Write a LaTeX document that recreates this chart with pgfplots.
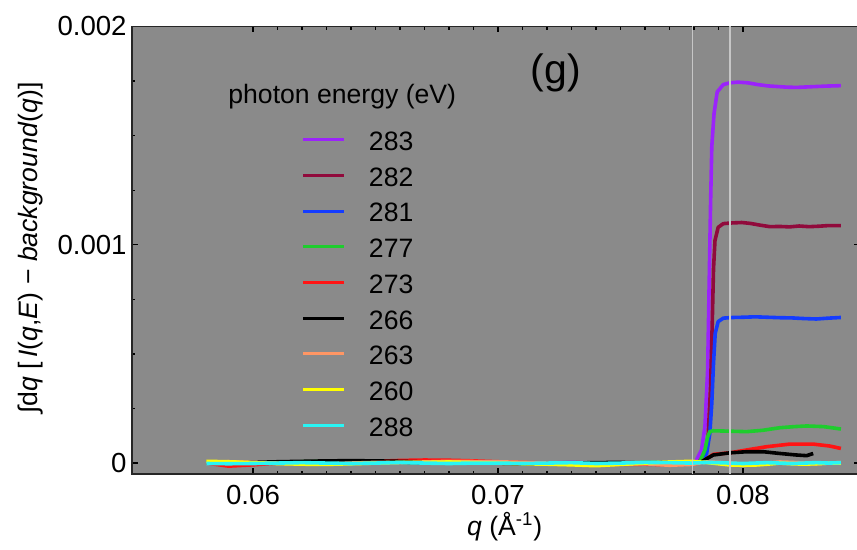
\documentclass[border=0pt]{standalone}
\usepackage{fontspec}
\setmainfont{Liberation Sans}
\usepackage{pgfplots}
\pgfplotsset{compat=1.18}
\definecolor{bg}{RGB}{138,138,138}
\definecolor{vline}{RGB}{198,198,198}
\definecolor{c283}{RGB}{155,35,250}
\definecolor{c282}{RGB}{145,10,60}
\definecolor{c281}{RGB}{20,60,255}
\definecolor{c277}{RGB}{30,205,45}
\definecolor{c273}{RGB}{255,20,20}
\definecolor{c266}{RGB}{0,0,0}
\definecolor{c263}{RGB}{255,150,100}
\definecolor{c260}{RGB}{255,255,0}
\definecolor{c288}{RGB}{40,245,245}
\begin{document}
\begin{tikzpicture}
\begin{axis}[
  at={(0,0)}, anchor=south west,
  scale only axis, width=364pt, height=223.75pt,
  xmin=0.05506, xmax=0.08478, ymin=-0.00005, ymax=0.002,
  axis background/.style={fill=bg},
  xtick={0.06,0.07,0.08}, xticklabels={0.06,0.07,0.08},
  ytick={0,0.001,0.002}, yticklabels={0,0.001,0.002},
  scaled ticks=false,
  minor x tick num=9, minor y tick num=3,
  tick align=inside, major tick length=3pt, minor tick length=1.7pt,
  every tick/.style={black, line width=0.6pt},
  axis line style={line width=0.9pt, black!85},
  tick label style={font=\fontsize{13.8}{16}\selectfont},
  xticklabel style={inner ysep=0pt, yshift=-5.5pt},
  yticklabel style={inner xsep=0pt, xshift=-2.5pt},
  label style={font=\fontsize{13.3}{16}\selectfont},
  xlabel={\textit{q} (Å\textsuperscript{-1})},
  ylabel={∫d\textit{q} [\,\textit{I}(\textit{q},\textit{E}) − \textit{background}(\textit{q})]},
  xlabel style={at={(axis description cs:0.512,-0.118)}, anchor=center},
  ylabel style={at={(axis description cs:-0.140,0.505)}, anchor=center},
  every axis plot/.append style={line width=1.8pt, line join=round},
  legend cell align=left,
  legend image code/.code={\draw[#1, line width=1.5pt, line cap=butt] (0pt,0.6pt) -- (20.5pt,0.6pt);},
  legend style={at={(axis description cs:0.2335,0.7658)}, anchor=north west,
    draw=none, fill=none, inner sep=0pt, outer sep=0pt,
    font=\fontsize{13.3}{16}\selectfont,
    row sep=8.25pt, column sep=11.5pt,
    nodes={inner sep=0pt, text height=9.6pt, text depth=0pt}},
]
% 283
\addplot[c283] coordinates {
(0.0581,0)(0.0590,-0.3e-5)(0.0600,0.2e-5)(0.0610,0)(0.0620,0.3e-5)(0.0630,0.5e-5)(0.0640,0.3e-5)(0.0650,0)(0.0660,0.4e-5)(0.0670,0.3e-5)(0.0680,0)(0.0690,0.3e-5)(0.0700,0.2e-5)(0.0710,-0.3e-5)(0.0720,0)(0.0730,0.3e-5)(0.0740,0)(0.0750,-0.3e-5)(0.0760,0)(0.0770,0.2e-5)(0.0779,0)
(0.07804,0)(0.07831,6e-5)(0.07845,1.67e-4)(0.07856,4.27e-4)(0.07862,8.1e-4)(0.07868,1.19e-3)(0.07873,1.45e-3)(0.07882,1.6e-3)(0.07895,1.7e-3)(0.07920,1.734e-3)(0.07947,1.742e-3)(0.0798,1.745e-3)(0.0802,1.742e-3)(0.0806,1.734e-3)(0.0810,1.728e-3)(0.0814,1.725e-3)(0.0818,1.722e-3)(0.0822,1.721e-3)(0.0826,1.723e-3)(0.0830,1.725e-3)(0.0834,1.727e-3)(0.0837,1.728e-3)(0.0840,1.729e-3)
};
\addlegendentry{283}
% 282
\addplot[c282] coordinates {
(0.0581,0)(0.0590,-0.5e-5)(0.0600,0)(0.0610,0.3e-5)(0.0620,0)(0.0630,0.6e-5)(0.0640,0.5e-5)(0.0650,0.3e-5)(0.0660,0.5e-5)(0.0670,0.2e-5)(0.0680,0)(0.0690,0.3e-5)(0.0700,0)(0.0710,-0.3e-5)(0.0720,0)(0.0730,0.2e-5)(0.0740,0)(0.0750,-0.3e-5)(0.0760,0)(0.0770,0.3e-5)(0.0779,0)
(0.07818,0)(0.07845,4.4e-5)(0.07858,1.2e-4)(0.07868,3.5e-4)(0.07875,6.5e-4)(0.07880,8.9e-4)(0.07886,1.02e-3)(0.07899,1.08e-3)(0.07920,1.097e-3)(0.07954,1.1e-3)(0.07995,1.102e-3)(0.0803,1.098e-3)(0.0807,1.09e-3)(0.0811,1.083e-3)(0.0815,1.084e-3)(0.0819,1.082e-3)(0.0823,1.086e-3)(0.0827,1.083e-3)(0.0831,1.085e-3)(0.0835,1.088e-3)(0.0840,1.088e-3)
};
\addlegendentry{282}
% 281
\addplot[c281] coordinates {
(0.0581,0)(0.0590,0)(0.0600,-0.3e-5)(0.0610,0)(0.0620,0.3e-5)(0.0630,0.4e-5)(0.0640,0.3e-5)(0.0650,0.4e-5)(0.0660,0.2e-5)(0.0670,0)(0.0680,0.3e-5)(0.0690,0)(0.0700,0.2e-5)(0.0710,0)(0.0720,-0.3e-5)(0.0730,0)(0.0740,-0.5e-5)(0.0750,-0.3e-5)(0.0760,0)(0.0770,0.2e-5)(0.0779,0)
(0.07831,0)(0.07852,4.4e-5)(0.07865,1.36e-4)(0.07873,2.74e-4)(0.07880,4.57e-4)(0.07887,5.95e-4)(0.07899,6.48e-4)(0.07920,6.64e-4)(0.07960,6.67e-4)(0.0800,6.68e-4)(0.0805,6.7e-4)(0.0810,6.68e-4)(0.0815,6.66e-4)(0.0820,6.65e-4)(0.0825,6.62e-4)(0.0830,6.6e-4)(0.0835,6.64e-4)(0.0840,6.67e-4)
};
\addlegendentry{281}
% 277
\addplot[c277] coordinates {
(0.0581,0.5e-5)(0.0590,0)(0.0600,0)(0.0610,0.3e-5)(0.0620,0.6e-5)(0.0630,0.8e-5)(0.0640,0.5e-5)(0.0650,0.3e-5)(0.0660,0.3e-5)(0.0670,0.2e-5)(0.0680,0)(0.0690,0.3e-5)(0.0700,0)(0.0710,0)(0.0720,-0.3e-5)(0.0730,0)(0.0740,-0.2e-5)(0.0750,0)(0.0760,0.3e-5)(0.0770,0.2e-5)(0.0779,0)
(0.07824,0.6e-5)(0.07845,6e-5)(0.07856,1.2e-4)(0.07865,1.44e-4)(0.07878,1.48e-4)(0.0795,1.46e-4)(0.08015,1.44e-4)(0.0808,1.5e-4)(0.08151,1.62e-4)(0.0821,1.67e-4)(0.0826,1.7e-4)(0.0833,1.67e-4)(0.0840,1.56e-4)
};
\addlegendentry{277}
% 273
\addplot[c273] coordinates {
(0.0581,0)(0.0590,-1.4e-5)(0.0600,-0.8e-5)(0.0610,0)(0.0620,0.3e-5)(0.0630,0.2e-5)(0.0640,0.5e-5)(0.0650,0.8e-5)(0.0660,1.2e-5)(0.0670,1.4e-5)(0.0680,1.3e-5)(0.0690,1.0e-5)(0.0700,0.6e-5)(0.0710,0.3e-5)(0.0720,0)(0.0730,-0.3e-5)(0.0740,-0.5e-5)(0.0750,-0.6e-5)(0.0760,-0.5e-5)(0.0770,-0.8e-5)(0.0779,-0.4e-5)
(0.07824,0)(0.07852,2e-5)(0.07879,4e-5)(0.07947,4.7e-5)(0.08015,6e-5)(0.08097,7.5e-5)(0.08192,8.7e-5)(0.08287,8.7e-5)(0.08355,7.8e-5)(0.0840,6.7e-5)
};
\addlegendentry{273}
% 266
\addplot[c266] coordinates {
(0.0581,0.3e-5)(0.0590,0)(0.0600,0.3e-5)(0.0610,0.6e-5)(0.0620,0.8e-5)(0.0630,1.0e-5)(0.0640,1.1e-5)(0.0650,1.0e-5)(0.0660,0.8e-5)(0.0670,0.5e-5)(0.0680,0.3e-5)(0.0690,0.2e-5)(0.0700,0)(0.0710,-0.3e-5)(0.0720,-0.2e-5)(0.0730,0)(0.0740,0.2e-5)(0.0750,0.3e-5)(0.0760,0)(0.0770,0.2e-5)(0.0779,0.3e-5)
(0.0783,0.5e-5)(0.07852,2e-5)(0.07879,3.7e-5)(0.07947,4.7e-5)(0.08015,5.2e-5)(0.08083,5.2e-5)(0.08151,4.4e-5)(0.08219,3.7e-5)(0.0826,3.4e-5)(0.08287,4.4e-5)
};
\addlegendentry{266}
% 263
\addplot[c263] coordinates {
(0.0581,0.3e-5)(0.0590,0.6e-5)(0.0600,0.3e-5)(0.0610,0)(0.0620,-0.3e-5)(0.0630,-0.4e-5)(0.0640,0)(0.0650,0.3e-5)(0.0660,0.2e-5)(0.0670,0.5e-5)(0.0680,0.8e-5)(0.0690,0.7e-5)(0.0700,0.6e-5)(0.0710,0.3e-5)(0.0720,0)(0.0730,-0.4e-5)(0.0740,-0.6e-5)(0.0750,-0.5e-5)(0.0760,-0.3e-5)(0.0770,-1.0e-5)(0.0779,-0.6e-5)
(0.0785,0.5e-5)(0.0790,0.3e-5)(0.0795,0)(0.0800,-0.5e-5)(0.0805,-0.3e-5)(0.0810,0)(0.0815,0.5e-5)(0.0820,0.3e-5)(0.0825,0)(0.0830,-0.3e-5)(0.0835,0)(0.0840,0.2e-5)
};
\addlegendentry{263}
% 260
\addplot[c260] coordinates {
(0.0581,0.8e-5)(0.0590,0.6e-5)(0.0600,0.2e-5)(0.0610,-0.2e-5)(0.0620,-0.5e-5)(0.0630,-0.6e-5)(0.0640,-0.3e-5)(0.0650,0)(0.0660,0.3e-5)(0.0670,0.3e-5)(0.0680,0.5e-5)(0.0690,0.2e-5)(0.0700,0)(0.0710,-0.3e-5)(0.0720,-0.5e-5)(0.0730,-0.8e-5)(0.0740,-1.2e-5)(0.0750,-0.6e-5)(0.0760,0)(0.0770,0.5e-5)(0.0779,0.8e-5)
(0.0785,0.3e-5)(0.0790,-0.3e-5)(0.0795,-0.9e-5)(0.0800,-1.0e-5)(0.0805,-0.9e-5)(0.0810,-0.5e-5)(0.0815,0)(0.0820,-0.3e-5)(0.0825,-0.5e-5)(0.0830,-0.3e-5)(0.0835,0)(0.0840,0)
};
\addlegendentry{260}
% 288
\addplot[c288] coordinates {
(0.0581,-0.2e-5)(0.0590,-0.3e-5)(0.0600,-0.2e-5)(0.0610,0)(0.0620,0.2e-5)(0.0630,0)(0.0640,-0.2e-5)(0.0650,0)(0.0660,0.3e-5)(0.0670,0)(0.0680,-0.2e-5)(0.0690,0)(0.0700,0)(0.0710,-0.2e-5)(0.0720,0)(0.0730,0.2e-5)(0.0740,-0.2e-5)(0.0750,0)(0.0760,0.3e-5)(0.0770,0.2e-5)(0.0779,0)
(0.0785,0.3e-5)(0.0790,0.2e-5)(0.0795,0)(0.0800,-0.2e-5)(0.0805,0)(0.0810,0.2e-5)(0.0815,0)(0.0820,-0.2e-5)(0.0825,0)(0.0830,0.2e-5)(0.0835,0)(0.0840,0.2e-5)
};
\addlegendentry{288}
% reference lines
\addplot[forget plot, vline, line width=0.8pt] coordinates {(0.07795,-0.0001)(0.07795,0.0021)};
\addplot[forget plot, vline, line width=0.8pt] coordinates {(0.07947,-0.0001)(0.07947,0.0021)};
\node[anchor=west, inner sep=0pt, font=\fontsize{13.3}{16}\selectfont] at (axis description cs:0.1319,0.8425) {photon energy (eV)};
\node[inner sep=0pt, font=\fontsize{20.5}{24}\selectfont] at (axis description cs:0.5824,0.8961) {(g)};
\end{axis}
\pgfresetboundingbox
\path (-66pt,-38pt) rectangle (362.5pt,237pt);
\end{tikzpicture}
\end{document}
